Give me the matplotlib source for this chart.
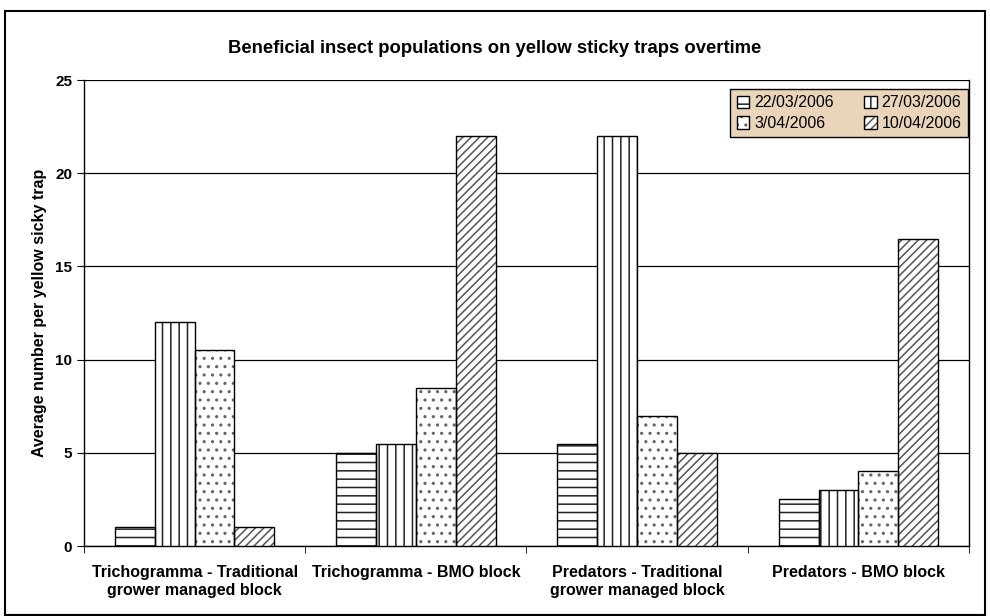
import matplotlib.pyplot as plt
import numpy as np
from matplotlib.patches import Rectangle

categories = ['Trichogramma - Traditional\ngrower managed block',
              'Trichogramma - BMO block',
              'Predators - Traditional\ngrower managed block',
              'Predators - BMO block']
dates = ['22/03/2006', '27/03/2006', '3/04/2006', '10/04/2006']
values = {
    '22/03/2006': [1, 5, 5.5, 2.5],
    '27/03/2006': [12, 5.5, 22, 3],
    '3/04/2006': [10.5, 8.5, 7, 4],
    '10/04/2006': [1, 22, 5, 16.5],
}
hatches = ['--', '||', '..', '////']
hatch_colors = ['#222222', '#222222', '#666666', '#555555']

plt.rcParams['font.family'] = ['Liberation Sans', 'DejaVu Sans']
plt.rcParams['hatch.linewidth'] = 1.1

fig = plt.figure(figsize=(9.9, 6.16), dpi=100)
ax = fig.add_axes([0.0848, 0.1136, 0.894, 0.7564])

x = np.arange(len(categories))
w = 0.18
handles = []
for i, d in enumerate(dates):
    pos = x + (i - 1.5) * w
    h = ax.bar(pos, values[d], w, facecolor='white', edgecolor=hatch_colors[i],
               hatch=hatches[i], linewidth=0, zorder=3)
    o = ax.bar(pos, values[d], w, fill=False, edgecolor='black', linewidth=1.0, zorder=4)
    handles.append((h, o))

ax.set_xlim(-0.5, 3.5)
ax.set_ylim(0, 25)
ax.set_yticks([0, 5, 10, 15, 20, 25])
ax.yaxis.grid(True, color='black', linewidth=0.9, zorder=0)
ax.set_xticks(x)
ax.set_xticklabels(categories, fontsize=11.5, fontweight='bold')
ax.set_xticks([-0.5, 0.5, 1.5, 2.5, 3.5], minor=True)
ax.tick_params(axis='x', which='major', length=0, pad=14)
ax.tick_params(axis='x', which='minor', length=5, direction='out')
ax.tick_params(axis='y', length=5, direction='out', labelsize=11)
for lbl in ax.get_yticklabels():
    lbl.set_fontweight('bold')
for s in ax.spines.values():
    s.set_color('black')
    s.set_linewidth(1.0)
ax.spines['top'].set_visible(False)

ax.set_ylabel('Average number per yellow sicky trap', fontsize=11.5, fontweight='bold', labelpad=6)
fig.text(0.5, 0.922, 'Beneficial insect populations on yellow sticky traps overtime',
         ha='center', va='center', fontsize=13.3, fontweight='bold')

# fill legend row-wise: row 1 = first two dates, row 2 = last two
order = [0, 2, 1, 3]
leg = ax.legend([handles[k] for k in order], [dates[k] for k in order], ncol=2,
                loc='upper right', bbox_to_anchor=(1.008, 0.998), fontsize=11.5,
                frameon=True, fancybox=False, facecolor='#EBD5BA', edgecolor='black',
                framealpha=1, handlelength=0.8, handleheight=0.8, handletextpad=0.3,
                columnspacing=1.9, borderpad=0.4, labelspacing=0.35)
leg.get_frame().set_linewidth(1.0)

fig.patches.append(Rectangle((5 / 990, 0.002), 980 / 990, 1 - 12 / 616, transform=fig.transFigure,
                             fill=False, edgecolor='black', linewidth=1.5))

fig.savefig('out.png', dpi=100)
